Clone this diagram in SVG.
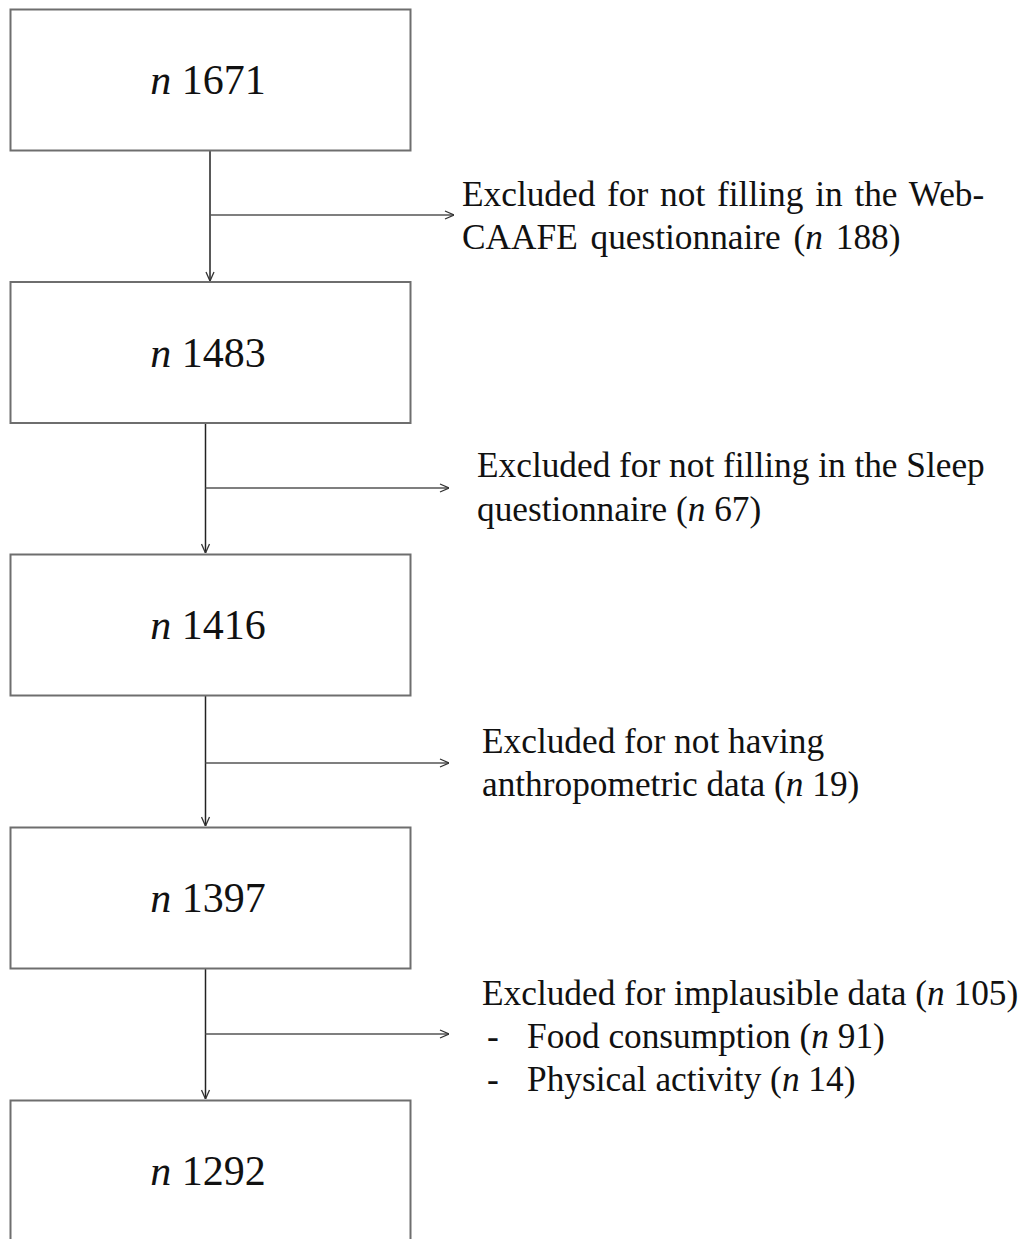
<svg xmlns="http://www.w3.org/2000/svg" width="1025" height="1239" viewBox="0 0 1025 1239">
<defs>
<style>
.box{fill:#fff;stroke:#6e6e6e;stroke-width:2}
.lbl{font-family:"Liberation Serif","Times New Roman",serif;font-size:42px;fill:#111;text-anchor:middle}
.ex{font-family:"Liberation Serif","Times New Roman",serif;font-size:35.3px;fill:#111}
.vl{stroke:#222;stroke-width:1.5;fill:none}
.hl{stroke:#555;stroke-width:1.5;fill:none}
</style>
<marker id="ah" viewBox="0 0 10 10" refX="10" refY="5" markerWidth="10" markerHeight="10" markerUnits="userSpaceOnUse" orient="auto">
<path d="M1,1 L10,5 L1,9" fill="none" stroke="#333" stroke-width="1.3"/>
</marker>
</defs>
<rect width="1025" height="1239" fill="#fff"/>
<g id="connectors">
<line class="vl" x1="210" y1="150" x2="210" y2="281" marker-end="url(#ah)"/>
<line class="hl" x1="210" y1="215" x2="454" y2="215" marker-end="url(#ah)"/>
<line class="vl" x1="205.5" y1="423" x2="205.5" y2="553" marker-end="url(#ah)"/>
<line class="hl" x1="205.5" y1="488" x2="449" y2="488" marker-end="url(#ah)"/>
<line class="vl" x1="205.5" y1="695" x2="205.5" y2="826" marker-end="url(#ah)"/>
<line class="hl" x1="205.5" y1="763" x2="449" y2="763" marker-end="url(#ah)"/>
<line class="vl" x1="205.5" y1="968" x2="205.5" y2="1099" marker-end="url(#ah)"/>
<line class="hl" x1="205.5" y1="1034" x2="449" y2="1034" marker-end="url(#ah)"/>
</g>
<g id="node1"><rect class="box" x="10.5" y="9.5" width="400" height="141"/><text class="lbl" x="208" y="94"><tspan font-style="italic">n</tspan> 1671</text></g>
<g id="node2"><rect class="box" x="10.5" y="282" width="400" height="141"/><text class="lbl" x="208" y="367"><tspan font-style="italic">n</tspan> 1483</text></g>
<g id="node3"><rect class="box" x="10.5" y="554.5" width="400" height="141"/><text class="lbl" x="208" y="639"><tspan font-style="italic">n</tspan> 1416</text></g>
<g id="node4"><rect class="box" x="10.5" y="827.5" width="400" height="141"/><text class="lbl" x="208" y="912"><tspan font-style="italic">n</tspan> 1397</text></g>
<g id="node5"><rect class="box" x="10.5" y="1100.5" width="400" height="141"/><text class="lbl" x="208" y="1185"><tspan font-style="italic">n</tspan> 1292</text></g>
<g id="excl1">
<text class="ex" x="462" y="206" word-spacing="3">Excluded for not filling in the Web-</text>
<text class="ex" x="462" y="249" word-spacing="4">CAAFE questionnaire (<tspan font-style="italic">n</tspan> 188)</text>
</g>
<g id="excl2">
<text class="ex" x="477" y="477">Excluded for not filling in the Sleep</text>
<text class="ex" x="477" y="521">questionnaire (<tspan font-style="italic">n</tspan> 67)</text>
</g>
<g id="excl3">
<text class="ex" x="482" y="753">Excluded for not having</text>
<text class="ex" x="482" y="796">anthropometric data (<tspan font-style="italic">n</tspan> 19)</text>
</g>
<g id="excl4">
<text class="ex" x="482" y="1005">Excluded for implausible data (<tspan font-style="italic">n</tspan> 105)</text>
<text class="ex" x="487" y="1048">-</text>
<text class="ex" x="527" y="1048">Food consumption (<tspan font-style="italic">n</tspan> 91)</text>
<text class="ex" x="487" y="1091">-</text>
<text class="ex" x="527" y="1091">Physical activity (<tspan font-style="italic">n</tspan> 14)</text>
</g>
</svg>
